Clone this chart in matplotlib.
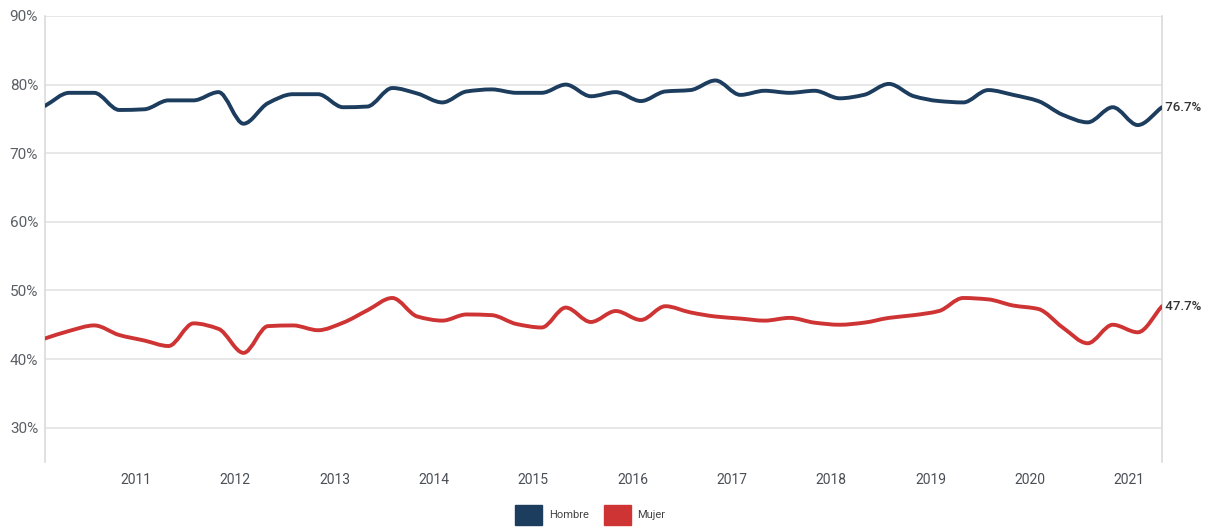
import matplotlib
matplotlib.use("Agg")
import matplotlib.pyplot as plt
import matplotlib.dates as mdates
from matplotlib.path import Path
from matplotlib.patches import PathPatch, Patch
import numpy as np
import pandas as pd

# quarterly series, 2010Q1 .. 2021Q2
quarters = pd.period_range("2010Q1", "2021Q2", freq="Q")

hombre = [76.9, 78.8, 78.8, 76.3, 76.4, 77.7, 77.7, 78.9, 74.3, 77.3,
          78.6, 78.6, 76.7, 76.8, 79.5, 78.7, 77.4, 79.0, 79.3, 78.8,
          78.8, 80.0, 78.3, 78.9, 77.6, 79.0, 79.2, 80.6, 78.5, 79.1,
          78.8, 79.1, 78.0, 78.5, 80.1, 78.3, 77.6, 77.4, 79.2, 78.5,
          77.6, 75.6, 74.5, 76.7, 74.1, 76.7]

mujer = [43.0, 44.1, 44.9, 43.5, 42.7, 41.9, 45.2, 44.4, 40.9, 44.8,
         44.9, 44.2, 45.3, 47.1, 48.9, 46.2, 45.6, 46.5, 46.4, 45.1,
         44.6, 47.5, 45.4, 47.0, 45.7, 47.7, 46.8, 46.2, 45.9, 45.6,
         46.0, 45.3, 45.0, 45.3, 46.0, 46.4, 47.0, 48.9, 48.7, 47.8,
         47.3, 44.6, 42.3, 45.0, 43.9, 47.7]

series_names = ["Hombre", "Mujer"]
colors = ["#1d3d5f", "#cf3434"]
years = list(range(2011, 2022))


def smooth_path(x, y):
    # monotone cubic (Fritsch-Carlson) drawn as bezier segments
    x = np.asarray(x, float)
    y = np.asarray(y, float)
    h = np.diff(x)
    d = np.diff(y) / h
    m = np.zeros_like(y)
    m[0], m[-1] = d[0], d[-1]
    for i in range(1, len(y) - 1):
        if d[i - 1] * d[i] <= 0:
            m[i] = 0
        else:
            w1 = 2 * h[i] + h[i - 1]
            w2 = h[i] + 2 * h[i - 1]
            m[i] = (w1 + w2) / (w1 / d[i - 1] + w2 / d[i])
    verts = [(x[0], y[0])]
    codes = [Path.MOVETO]
    for i in range(len(x) - 1):
        verts += [(x[i] + h[i] / 3, y[i] + m[i] * h[i] / 3),
                  (x[i + 1] - h[i] / 3, y[i + 1] - m[i + 1] * h[i] / 3),
                  (x[i + 1], y[i + 1])]
        codes += [Path.CURVE4] * 3
    return Path(verts, codes)


dates = quarters.start_time + pd.DateOffset(months=1)
xs = mdates.date2num(dates.to_pydatetime())

plt.rcParams["font.family"] = ["Roboto", "DejaVu Sans"]
fig = plt.figure(figsize=(12.1, 5.29), dpi=100)
ax = fig.add_axes([0.0372, 0.1267, 0.9231, 0.8431])

for name, vals, col in zip(series_names, [hombre, mujer], colors):
    patch = PathPatch(smooth_path(xs, vals), facecolor="none", edgecolor=col,
                      lw=2.8, capstyle="round", joinstyle="round", zorder=3)
    ax.add_patch(patch)
    ax.text(xs[-1], vals[-1], f" {vals[-1]:.1f}%", fontsize=9.5, color="#333333",
            fontweight="medium", va="center", ha="left", zorder=4)

ax.set_xlim(xs[0], xs[-1])
ax.set_ylim(25, 90)

ax.set_yticks(range(30, 91, 10))
ax.set_yticklabels([f"{v}%" for v in range(30, 91, 10)])
ax.set_xticks(mdates.date2num([pd.Timestamp(f"{y}-01-01") for y in years]))
ax.set_xticklabels([str(y) for y in years])
ax.tick_params(axis="y", length=0, pad=5, labelsize=11, labelcolor="#5a5f66")
ax.tick_params(axis="x", length=0, pad=8, labelsize=10, labelcolor="#4a4f57")

ax.grid(axis="y", color="#e3e3e3", lw=1.2)
ax.set_axisbelow(True)
for s in ["top", "bottom"]:
    ax.spines[s].set_visible(False)
for s in ["left", "right"]:
    ax.spines[s].set_color("#dadada")
    ax.spines[s].set_linewidth(1.2)

handles = [Patch(facecolor=c, edgecolor=c) for c in colors]
fig.legend(handles, series_names, loc="lower center", ncol=2, frameon=False,
           bbox_to_anchor=(0.488, 0.0), borderaxespad=0.2, borderpad=0.2,
           fontsize=8, handlelength=2.4, handleheight=2.3, handletextpad=0.6,
           columnspacing=1.4, labelcolor="#444444")

fig.savefig("out.png", dpi=100)
